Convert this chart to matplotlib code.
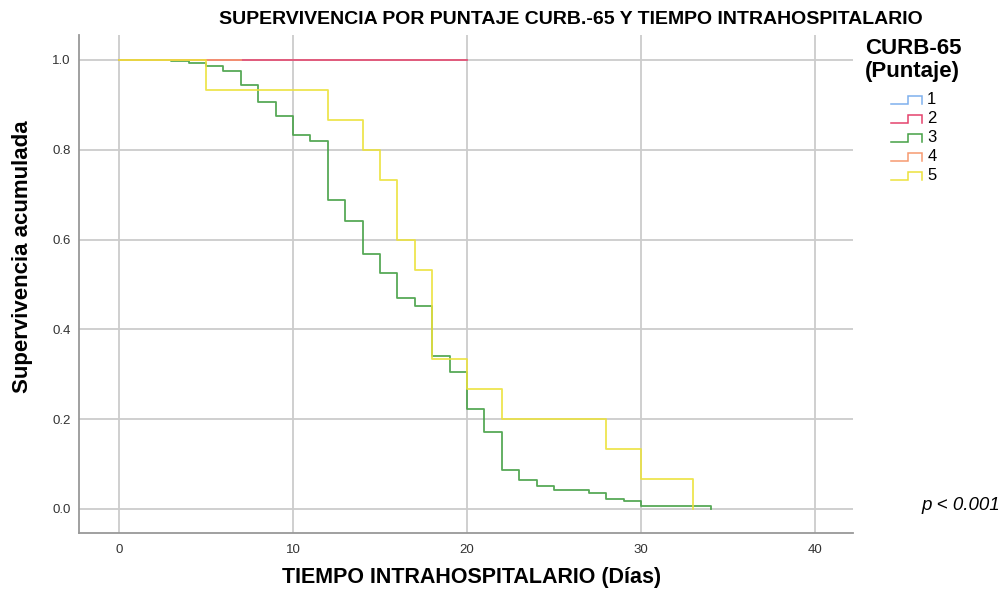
import matplotlib
matplotlib.use("Agg")
import matplotlib.pyplot as plt
from matplotlib.lines import Line2D
from matplotlib.legend_handler import HandlerBase

plt.rcParams["font.family"] = ["Liberation Sans", "DejaVu Sans"]

# Kaplan-Meier estimates by CURB-65 score (time in days, cumulative survival)
groups = ["1", "2", "3", "4", "5"]
times_1 = [0, 4]
surv_1 = [1.0, 1.0]
times_2 = [0, 20]
surv_2 = [1.0, 1.0]
times_3 = [0, 3, 4, 5, 6, 7, 8, 9, 10, 11, 12, 13, 14, 15, 16, 17, 18, 19,
           20, 21, 22, 23, 24, 25, 27, 28, 29, 30, 34]
surv_3 = [1.0, 0.997, 0.993, 0.987, 0.976, 0.944, 0.906, 0.875, 0.832, 0.819,
          0.688, 0.641, 0.569, 0.525, 0.471, 0.453, 0.341, 0.306, 0.223, 0.171,
          0.087, 0.065, 0.052, 0.042, 0.036, 0.022, 0.018, 0.007, 0.0]
times_4 = [0, 7]
surv_4 = [1.0, 1.0]
times_5 = [0, 5, 12, 14, 15, 16, 17, 18, 20, 22, 28, 30, 33]
surv_5 = [1.0, 0.933, 0.867, 0.800, 0.733, 0.600, 0.533, 0.333, 0.267, 0.200,
          0.133, 0.067, 0.0]

colors = ["#7eb0ee", "#e4436c", "#45a045", "#f79a70", "#ece23c"]
x_ticks = [0, 10, 20, 30, 40]
y_ticks = [0.0, 0.2, 0.4, 0.6, 0.8, 1.0]

series = [(times_1, surv_1), (times_2, surv_2), (times_3, surv_3),
          (times_4, surv_4), (times_5, surv_5)]


class StepHandler(HandlerBase):
    """Legend key drawn as a small survival step."""
    def create_artists(self, legend, orig_handle, xdescent, ydescent,
                       width, height, fontsize, trans):
        x0, x1 = -xdescent, -xdescent + width
        xm = x0 + 0.53 * width
        ylo = -ydescent + 0.05 * height
        yhi = -ydescent + 0.70 * height
        ln = Line2D([x0, xm, xm, x1, x1], [ylo, ylo, yhi, yhi, ylo],
                    color=orig_handle.get_color(), lw=1.1,
                    solid_joinstyle="miter", transform=trans)
        return [ln]


fig = plt.figure(figsize=(10.08, 5.95), dpi=100)
ax = fig.add_axes([0.0784, 0.1042, 0.7678, 0.8370])

handles = []
for (t, s), c in zip(series, colors):
    h, = ax.step(t, s, where="post", color=c, lw=1.3, alpha=0.9)
    handles.append(h)

ax.set_xlim(-2.3, 42.18)
ax.set_ylim(-0.0535, 1.0557)
ax.set_xticks(x_ticks)
ax.set_yticks(y_ticks)
ax.set_xticklabels([str(v) for v in x_ticks])
ax.set_yticklabels([f"{v:.1f}" for v in y_ticks])
ax.tick_params(axis="both", length=0, labelsize=9.5, labelcolor="#333333")
ax.tick_params(axis="x", pad=8)
ax.tick_params(axis="y", pad=6)
ax.grid(True, color="#cccccc", lw=1.3)
ax.set_axisbelow(True)
for side in ["top", "right"]:
    ax.spines[side].set_visible(False)
for side in ["left", "bottom"]:
    ax.spines[side].set_color("#999999")
    ax.spines[side].set_linewidth(1.3)

fig.text(0.5665, 1 - 19 / 595, "SUPERVIVENCIA POR PUNTAJE CURB.-65 Y TIEMPO INTRAHOSPITALARIO",
         ha="center", va="center", fontsize=14, fontweight="bold")
fig.text(0.022, 1 - 257 / 595, "Supervivencia acumulada", rotation=90,
         ha="center", va="center", fontsize=16, fontweight="bold")
fig.text(0.468, 1 - 578 / 595, "TIEMPO INTRAHOSPITALARIO (Días)",
         ha="center", va="center", fontsize=15.5, fontweight="bold")
fig.text(921 / 1008, 1 - 506 / 595, "p < 0.001", ha="left", va="center",
         fontsize=13.5, fontstyle="italic")

fig.text(865 / 1008, 1 - 38 / 595, "CURB-65\n(Puntaje)", ha="left", va="top",
         fontsize=16, fontweight="bold", linespacing=1.1)

leg = fig.legend(handles, groups, loc="upper left",
                 bbox_to_anchor=(883 / 1008, 1 - 84 / 595),
                 frameon=False, fontsize=12, handlelength=1.85,
                 handletextpad=0.3, labelspacing=0.24, borderpad=0,
                 handler_map={Line2D: StepHandler()})

fig.savefig("out.png", dpi=100)
